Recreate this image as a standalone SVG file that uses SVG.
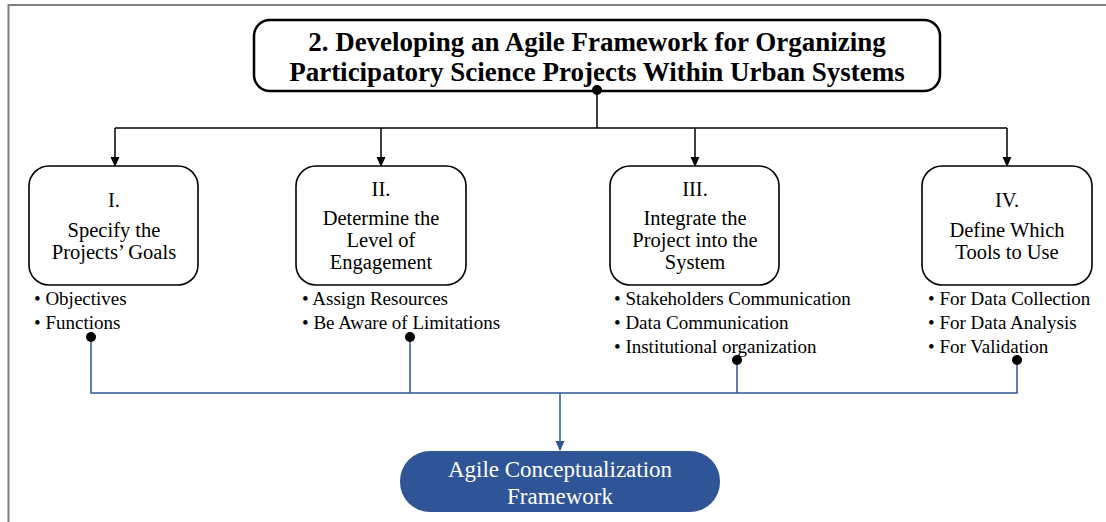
<svg xmlns="http://www.w3.org/2000/svg" width="1106" height="522" viewBox="0 0 1106 522">
<defs>
<marker id="ab" markerWidth="10" markerHeight="10" refX="9" refY="5" orient="auto" markerUnits="userSpaceOnUse"><path d="M0,0.5 L10,5 L0,9.5 Z" fill="#000"/></marker>
<marker id="au" markerWidth="10" markerHeight="10" refX="9" refY="5" orient="auto" markerUnits="userSpaceOnUse"><path d="M0,0.5 L10,5 L0,9.5 Z" fill="#2F5597"/></marker>
<style>
.box{fill:#fff;stroke:#000;stroke-width:1.6}
.t{font-family:"Liberation Serif","Times New Roman",serif;font-size:20.5px;fill:#000;text-anchor:middle}
.b{font-family:"Liberation Serif","Times New Roman",serif;font-size:19px;fill:#000}
.h{font-family:"Liberation Serif","Times New Roman",serif;font-size:27px;font-weight:bold;fill:#000;text-anchor:middle}
.w{font-family:"Liberation Serif","Times New Roman",serif;font-size:23px;fill:#fff;text-anchor:middle}
.k{stroke:#000;stroke-width:1.5;fill:none}
.u{stroke:#2F5597;stroke-width:1.5;fill:none}
</style>
</defs>
<rect width="1106" height="522" fill="#fff"/>
<path d="M8.5,522 V5 H1106" fill="none" stroke="#7f7f7f" stroke-width="2"/>

<g id="title">
<rect x="254" y="20" width="686" height="71" rx="16" fill="#fff" stroke="#000" stroke-width="2.5"/>
<text class="h" x="597" y="51">2. Developing an Agile Framework for Organizing</text>
<text class="h" x="597" y="81">Participatory Science Projects Within Urban Systems</text>
</g>

<g id="node1">
<rect class="box" x="29" y="166" width="169" height="119" rx="20"/>
<text class="t" x="114" y="207">I.</text>
<text class="t" x="114" y="237">Specify the</text>
<text class="t" x="114" y="259">Projects’ Goals</text>
<text class="b" x="34" y="305">• Objectives</text>
<text class="b" x="34" y="329">• Functions</text>
</g>

<g id="node2">
<rect class="box" x="296" y="166" width="170" height="119" rx="20"/>
<text class="t" x="381" y="196">II.</text>
<text class="t" x="381" y="225">Determine the</text>
<text class="t" x="381" y="247">Level of</text>
<text class="t" x="381" y="269">Engagement</text>
<text class="b" x="302" y="305">• Assign Resources</text>
<text class="b" x="302" y="329">• Be Aware of Limitations</text>
</g>

<g id="node3">
<rect class="box" x="610" y="166" width="169" height="119" rx="20"/>
<text class="t" x="695" y="196">III.</text>
<text class="t" x="695" y="225">Integrate the</text>
<text class="t" x="695" y="247">Project into the</text>
<text class="t" x="695" y="269">System</text>
<text class="b" x="614" y="305">• Stakeholders Communication</text>
<text class="b" x="614" y="329">• Data Communication</text>
<text class="b" x="614" y="353">• Institutional organization</text>
</g>

<g id="node4">
<rect class="box" x="922" y="166" width="170" height="119" rx="20"/>
<text class="t" x="1007" y="207">IV.</text>
<text class="t" x="1007" y="237">Define Which</text>
<text class="t" x="1007" y="259">Tools to Use</text>
<text class="b" x="928" y="305">• For Data Collection</text>
<text class="b" x="928" y="329">• For Data Analysis</text>
<text class="b" x="928" y="353">• For Validation</text>
</g>

<g id="result">
<rect x="400" y="451" width="320" height="61" rx="30" fill="#2F5597"/>
<text class="w" x="560" y="477">Agile Conceptualization</text>
<text class="w" x="560" y="504">Framework</text>
</g>

<g id="connectors">
<path class="k" d="M597,90 V128"/>
<path class="k" d="M115,128 H1007"/>
<path class="k" d="M115,128 V166" marker-end="url(#ab)"/>
<path class="k" d="M381,128 V166" marker-end="url(#ab)"/>
<path class="k" d="M695,128 V166" marker-end="url(#ab)"/>
<path class="k" d="M1007,128 V166" marker-end="url(#ab)"/>
<circle cx="597" cy="90" r="5" fill="#000"/>
<path class="u" d="M91,337 V393 H1017 V360"/>
<path class="u" d="M410,337 V393"/>
<path class="u" d="M737,360 V393"/>
<path class="u" d="M560,393 V450" marker-end="url(#au)"/>
<circle cx="91" cy="337" r="5" fill="#000"/>
<circle cx="410" cy="337" r="5" fill="#000"/>
<circle cx="737" cy="360" r="5" fill="#000"/>
<circle cx="1017" cy="360" r="5" fill="#000"/>
</g>
</svg>
